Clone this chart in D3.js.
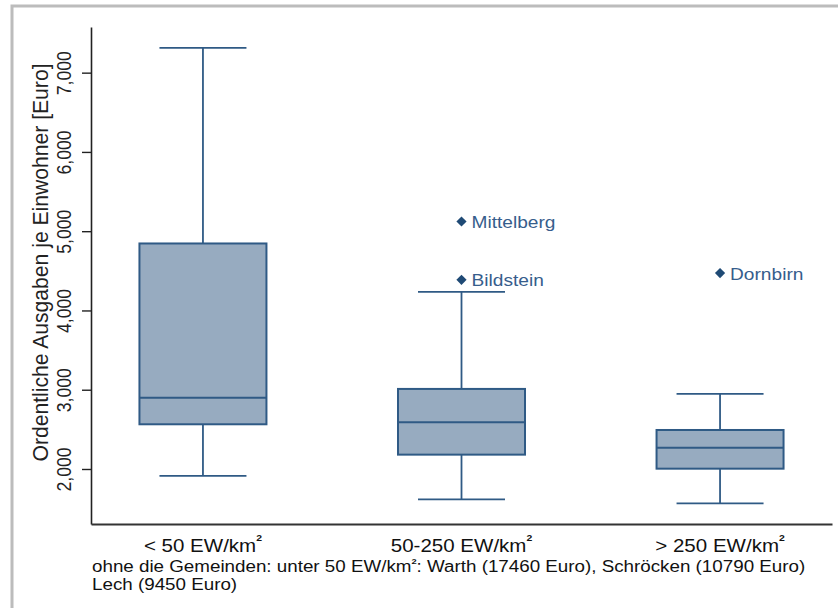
<!DOCTYPE html>
<html>
<head>
<meta charset="utf-8">
<script src="https://cdn.jsdelivr.net/npm/d3@7"></script>
<style>
  html, body { margin: 0; padding: 0; background: #ffffff; }
  svg { display: block; font-family: "Liberation Sans", Arial, sans-serif; }
</style>
</head>
<body>
<svg id="chart" width="838" height="608"></svg>
<script>
// ---- data ----
const categories = ["< 50 EW/km", "50-250 EW/km", "> 250 EW/km"];
const whiskerLow  = [1912, 1617, 1567];
const q1          = [2564, 2181, 2004];
const median      = [2900, 2590, 2269];
const q3          = [4845, 3010, 2492];
const whiskerHigh = [7312, 4235, 2947];
const outlierNames  = ["Mittelberg", "Bildstein", "Dornbirn"];
const outlierGroups = [1, 1, 2];
const outlierValues = [5122, 4386, 4471];
const yTicks = [2000, 3000, 4000, 5000, 6000, 7000];
const yTitle = "Ordentliche Ausgaben je Einwohner [Euro]";
const noteLine1a = "ohne die Gemeinden: unter 50 EW/km";
const noteLine1b = ": Warth (17460 Euro), Schröcken (10790 Euro)";
const noteLine2 = "Lech (9450 Euro)";

// ---- layout ----
const W = 838, H = 608;
const plotLeft = 91, plotRight = 832, plotTop = 27, plotBottom = 524;
const stretch = 1.16;
const boxFill = "#97abc0", boxStroke = "#2f5a85", markColor = "#1f4a75";

const svg = d3.select("#chart");

// outer frame (gray, open on right/bottom)
svg.append("path")
  .attr("d", `M12,${H} V6 H${W}`)
  .attr("fill", "none").attr("stroke", "#bcbcbc").attr("stroke-width", 3);

const y = d3.scaleLinear().domain([1306, 7576]).range([plotBottom, plotTop]);
const x = d3.scalePoint().domain(categories).range([plotLeft, plotRight]).padding(0.433);

const boxW = 127, capW = 87;

const rows = categories.map((c, i) => ({
  c, lo: whiskerLow[i], q1: q1[i], med: median[i], q3: q3[i], hi: whiskerHigh[i]
}));

const g = svg.append("g");
const bx = g.selectAll("g.box").data(rows).join("g").attr("class", "box");

// whiskers
bx.append("line")
  .attr("x1", d => x(d.c)).attr("x2", d => x(d.c))
  .attr("y1", d => y(d.hi)).attr("y2", d => y(d.q3))
  .attr("stroke", boxStroke).attr("stroke-width", 1.8);
bx.append("line")
  .attr("x1", d => x(d.c)).attr("x2", d => x(d.c))
  .attr("y1", d => y(d.q1)).attr("y2", d => y(d.lo))
  .attr("stroke", boxStroke).attr("stroke-width", 1.8);
// caps
bx.append("line")
  .attr("x1", d => x(d.c) - capW / 2).attr("x2", d => x(d.c) + capW / 2)
  .attr("y1", d => y(d.hi)).attr("y2", d => y(d.hi))
  .attr("stroke", boxStroke).attr("stroke-width", 1.8);
bx.append("line")
  .attr("x1", d => x(d.c) - capW / 2).attr("x2", d => x(d.c) + capW / 2)
  .attr("y1", d => y(d.lo)).attr("y2", d => y(d.lo))
  .attr("stroke", boxStroke).attr("stroke-width", 1.8);
// box
bx.append("rect")
  .attr("x", d => x(d.c) - boxW / 2).attr("width", boxW)
  .attr("y", d => y(d.q3)).attr("height", d => y(d.q1) - y(d.q3))
  .attr("fill", boxFill).attr("stroke", boxStroke).attr("stroke-width", 2);
// median
bx.append("line")
  .attr("x1", d => x(d.c) - boxW / 2).attr("x2", d => x(d.c) + boxW / 2)
  .attr("y1", d => y(d.med)).attr("y2", d => y(d.med))
  .attr("stroke", boxStroke).attr("stroke-width", 2);

// outliers
const outs = outlierNames.map((n, i) => ({ n, c: categories[outlierGroups[i]], v: outlierValues[i] }));
const og = g.selectAll("g.out").data(outs).join("g").attr("class", "out")
  .attr("transform", d => `translate(${x(d.c)},${y(d.v)})`);
og.append("path")
  .attr("d", d3.symbol(d3.symbolSquare, 52)())
  .attr("transform", "rotate(45)")
  .attr("fill", markColor);
og.append("text")
  .attr("transform", `translate(10,6.5) scale(${stretch},1)`)
  .attr("font-size", 16.5).attr("fill", "#365d8c")
  .text(d => d.n);

// y axis
const yAxis = d3.axisLeft(y).tickValues(yTicks).tickSize(9).tickSizeOuter(0)
  .tickFormat(d3.format(","));
const ya = svg.append("g").attr("transform", `translate(${plotLeft},0)`).call(yAxis);
ya.select(".domain").attr("stroke", "#222").attr("stroke-width", 1.6);
ya.selectAll(".tick line").attr("stroke", "#222").attr("stroke-width", 1.4);
ya.selectAll(".tick text")
  .attr("x", 0).attr("dy", 0)
  .attr("text-anchor", "middle")
  .attr("transform", `translate(-20,0) scale(${stretch},1) rotate(-90)`)
  .attr("font-size", 17.6).attr("fill", "#222")
  .attr("font-family", "Liberation Sans, Arial, sans-serif");

// x axis line
const xa = svg.append("g").attr("transform", `translate(0,${plotBottom})`)
  .call(d3.axisBottom(d3.scaleLinear().domain([0, 1]).range([plotLeft, plotRight])).ticks(0).tickSizeOuter(0));
xa.select(".domain").attr("stroke", "#333").attr("stroke-width", 1.8);
xa.selectAll(".tick").remove();

// x category labels
const xl = svg.selectAll("text.xlab").data(categories).join("text").attr("class", "xlab")
  .attr("transform", d => `translate(${x(d)},552) scale(${stretch},1)`)
  .attr("text-anchor", "middle").attr("font-size", 17.7).attr("fill", "#111");
xl.append("tspan").text(d => d);
xl.append("tspan").attr("dy", -11).attr("font-size", 9).attr("font-weight", "bold").text("2");

// y title
svg.append("text")
  .attr("transform", `translate(48,262.5) scale(${stretch},1) rotate(-90)`)
  .attr("text-anchor", "middle").attr("font-size", 19).attr("fill", "#222")
  .attr("textLength", 398).attr("lengthAdjust", "spacingAndGlyphs")
  .text(yTitle);

// footnote
const n1 = svg.append("text")
  .attr("transform", `translate(92,572) scale(${stretch},1)`)
  .attr("font-size", 16.2).attr("fill", "#111");
n1.append("tspan").text(noteLine1a);
n1.append("tspan").attr("dy", -8).attr("font-size", 8).attr("font-weight", "bold").text("2");
n1.append("tspan").attr("dy", 8).text(noteLine1b);
svg.append("text")
  .attr("transform", `translate(92,590) scale(${stretch},1)`)
  .attr("font-size", 16.2).attr("fill", "#111")
  .text(noteLine2);
</script>
</body>
</html>
